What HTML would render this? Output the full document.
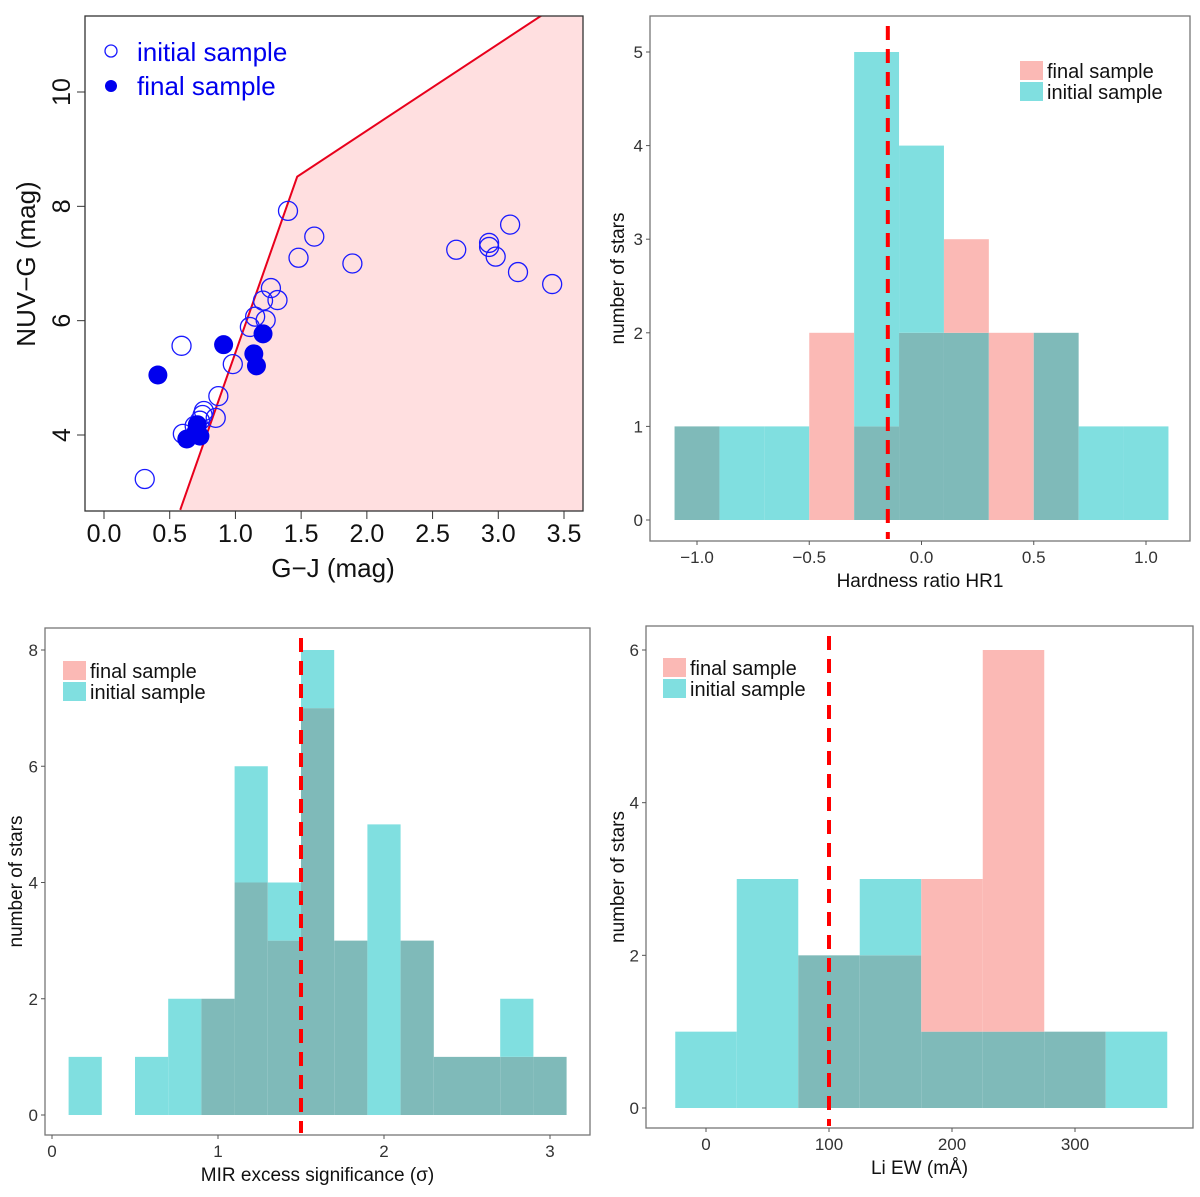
<!DOCTYPE html>
<html><head><meta charset="utf-8"><style>
html,body{margin:0;padding:0;background:#fff}
svg{display:block;font-family:"Liberation Sans",sans-serif}
</style></head><body>
<svg id="chart" width="1200" height="1197" viewBox="0 0 1200 1197" xmlns="http://www.w3.org/2000/svg"></svg>
<script>
// ---- Panel 1 data (scatter) ----
const initX=[0.31,0.59,0.60,0.69,0.73,0.75,0.76,0.85,0.87,0.98,1.11,1.15,1.21,1.23,1.27,1.32,1.40,1.48,1.60,1.89,2.68,2.93,2.93,2.98,3.09,3.15,3.41];
const initY=[3.23,5.56,4.02,4.16,4.25,4.35,4.42,4.30,4.68,5.24,5.89,6.07,6.35,6.01,6.57,6.36,7.92,7.10,7.47,7.00,7.24,7.36,7.29,7.12,7.68,6.85,6.64];
const finX=[0.41,0.91,1.21,1.14,1.16,0.63,0.70,0.73,0.71];
const finY=[5.05,5.58,5.77,5.42,5.21,3.93,4.05,3.98,4.18];
const boundX=[0.58,1.47,3.33];
const boundY=[2.69,8.52,11.34];
const p1TicksX=[0.0,0.5,1.0,1.5,2.0,2.5,3.0,3.5];
const p1TicksY=[4,6,8,10];
// ---- Panel 2 data ----
const hrEdges=[-1.1,-0.9,-0.7,-0.5,-0.3,-0.1,0.1,0.3,0.5,0.7,0.9,1.1];
const hrInit=[1,1,1,0,5,4,2,0,2,1,1];
const hrFinal=[1,0,0,2,1,2,3,2,2,0,0];
const hrTicksX=[-1.0,-0.5,0.0,0.5,1.0];
const hrTicksY=[0,1,2,3,4,5];
const hrCut=-0.15;
// ---- Panel 3 data ----
const mirEdges=[0.1,0.3,0.5,0.7,0.9,1.1,1.3,1.5,1.7,1.9,2.1,2.3,2.5,2.7,2.9,3.1];
const mirInit=[1,0,1,2,2,6,4,8,3,5,3,1,1,2,1];
const mirFinal=[0,0,0,0,2,4,3,7,3,0,3,1,1,1,1];
const mirTicksX=[0,1,2,3];
const mirTicksY=[0,2,4,6,8];
const mirCut=1.5;
// ---- Panel 4 data ----
const liEdges=[-25,25,75,125,175,225,275,325,375];
const liInit=[1,3,2,3,1,1,1,1];
const liFinal=[0,0,2,2,3,6,1,0];
const liTicksX=[0,100,200,300];
const liTicksY=[0,2,4,6];
const liCut=100;

const svg=document.getElementById('chart');
const NS='http://www.w3.org/2000/svg';
function mk(tag,attrs,parent){const e=document.createElementNS(NS,tag);for(const k in attrs)e.setAttribute(k,attrs[k]);(parent||svg).appendChild(e);return e;}
function lin(d0,d1,r0,r1){return v=>r0+(v-d0)*(r1-r0)/(d1-d0);}

// ===== Panel 1 =====
(function(){
  const g=mk('g',{});
  
  
  const L=85,R=583,T=16,B=511;
  const sx=lin(0,3.5,104,564), sy=lin(4,10,435,92);
  const clip=mk('clipPath',{id:'c1'},g);mk('rect',{x:L,y:T,width:R-L,height:B-T},clip);
  // shaded region
  let pts=boundX.map((x,i)=>sx(x)+','+sy(boundY[i]));
  const reg=mk('polygon',{points:pts.join(' ')+` ${R+50},${sy(boundY[2])} ${R+50},${B+50} ${sx(boundX[0])},${B+50}`,fill:'#ffdfe0','clip-path':'url(#c1)'},g);
  
  
  const ln=mk('polyline',{points:pts.join(' '),fill:'none',stroke:'#e8001c','stroke-width':2,'clip-path':'url(#c1)'},g);
  
  
  initX.forEach((x,i)=>{const c=mk('circle',{cx:sx(x),cy:sy(initY[i]),r:9.5,fill:'none',stroke:'#1a1aff','stroke-width':1.3},g);
    
    });
  finX.forEach((x,i)=>{const c=mk('circle',{cx:sx(x),cy:sy(finY[i]),r:9.5,fill:'#0000ee'},g);
    
    });
  const fr=mk('rect',{x:L,y:T,width:R-L,height:B-T,fill:'none',stroke:'#333','stroke-width':1.3},g);
  
  
  p1TicksX.forEach(v=>{mk('line',{x1:sx(v),x2:sx(v),y1:B,y2:B+8,stroke:'#333'},g);
    const t=mk('text',{x:sx(v),y:B+31,'font-size':25,'text-anchor':'middle',fill:'#111'},g);t.textContent=v.toFixed(1);
    
    });
  p1TicksY.forEach(v=>{mk('line',{x1:L-8,x2:L,y1:sy(v),y2:sy(v),stroke:'#333'},g);
    const t=mk('text',{x:0,y:0,'font-size':25,'text-anchor':'middle',fill:'#111',transform:`translate(${L-15},${sy(v)}) rotate(-90)`},g);t.textContent=v;
    
    });
  let t=mk('text',{x:333,y:577,'font-size':26,'text-anchor':'middle',fill:'#111'},g);t.textContent='G\u2212J (mag)';
  
  
  t=mk('text',{x:0,y:0,'font-size':26,'text-anchor':'middle',fill:'#111',transform:`translate(35,264) rotate(-90)`},g);t.textContent='NUV\u2212G (mag)';
  
  
  const l1=mk('circle',{cx:111,cy:51,r:6,fill:'none',stroke:'#1a1aff','stroke-width':1.3},g);
  
  
  const l2=mk('circle',{cx:111,cy:86,r:6,fill:'#0000ee'},g);
  
  
  t=mk('text',{x:137,y:61,'font-size':26,fill:'#0000ee'},g);t.textContent='initial sample';
  
  
  t=mk('text',{x:137,y:95,'font-size':26,fill:'#0000ee'},g);t.textContent='final sample';
  
  
})();

// ===== histogram helper =====
function hist(o){
  const g=mk('g',{});
  
  
  const sx=lin(o.xd[0],o.xd[1],o.xr[0],o.xr[1]), sy=lin(o.yd[0],o.yd[1],o.yr[0],o.yr[1]);
  const TEAL='#80dfe0',PINK='#fbb9b5',DARK='#7fbab9';
  for(let i=0;i<o.init.length;i++){
    const x0=sx(o.edges[i]),x1=sx(o.edges[i+1]);
    const a=o.init[i],b=o.final[i],m=Math.min(a,b);
    if(m>0){const r=mk('rect',{x:x0,y:sy(m),width:x1-x0,height:sy(0)-sy(m),fill:DARK},g);
      
      }
    if(a>m){const r=mk('rect',{x:x0,y:sy(a),width:x1-x0,height:sy(m)-sy(a),fill:TEAL},g);
      
      }
    if(b>m){const r=mk('rect',{x:x0,y:sy(b),width:x1-x0,height:sy(m)-sy(b),fill:PINK},g);
      
      }
  }
  const d=mk('line',{x1:sx(o.cut),x2:sx(o.cut),y1:o.box[1]+10,y2:o.box[3]-2,stroke:'#ff0000','stroke-width':4,'stroke-dasharray':'14,9'},g);
  
  
  const fr=mk('rect',{x:o.box[0],y:o.box[1],width:o.box[2]-o.box[0],height:o.box[3]-o.box[1],fill:'none',stroke:'#777','stroke-width':1.3},g);
  
  
  o.tx.forEach(v=>{mk('line',{x1:sx(v),x2:sx(v),y1:o.box[3],y2:o.box[3]+4,stroke:'#555'},g);
    const t=mk('text',{x:sx(v),y:o.box[3]+22,'font-size':17,'text-anchor':'middle',fill:'#333'},g);t.textContent=o.fmt(v);
    
    });
  o.ty.forEach(v=>{mk('line',{x1:o.box[0]-4,x2:o.box[0],y1:sy(v),y2:sy(v),stroke:'#555'},g);
    const t=mk('text',{x:o.box[0]-7,y:sy(v)+6,'font-size':17,'text-anchor':'end',fill:'#333'},g);t.textContent=v;
    
    });
  let t=mk('text',{x:(o.box[0]+o.box[2])/2,y:o.box[3]+46,'font-size':19,'text-anchor':'middle',fill:'#111'},g);t.textContent=o.xt;
  
  
  t=mk('text',{x:0,y:0,'font-size':19,'text-anchor':'middle',fill:'#111',transform:`translate(${o.ytx},${(o.box[1]+o.box[3])/2}) rotate(-90)`},g);t.textContent='number of stars';
  
  
  const [lx,ly]=o.leg;
  let s=mk('rect',{x:lx,y:ly,width:23,height:19,fill:PINK},g);
  
  
  s=mk('rect',{x:lx,y:ly+21,width:23,height:19,fill:TEAL},g);
  
  
  t=mk('text',{x:lx+27,y:ly+17,'font-size':20,fill:'#111'},g);t.textContent='final sample';
  
  
  t=mk('text',{x:lx+27,y:ly+38,'font-size':20,fill:'#111'},g);t.textContent='initial sample';
  
  
}
hist({name:'hardness-ratio-panel',edges:hrEdges,init:hrInit,final:hrFinal,cut:hrCut,xd:[-1,1],xr:[697,1146],yd:[0,5],yr:[520,52],
  box:[650,16,1190,541],tx:hrTicksX,ty:hrTicksY,fmt:v=>(v<0?'\u2212':'')+Math.abs(v).toFixed(1),xt:'Hardness ratio HR1',ytx:624,leg:[1020,61]});
hist({name:'mir-excess-panel',edges:mirEdges,init:mirInit,final:mirFinal,cut:mirCut,xd:[0,3],xr:[52,550],yd:[0,8],yr:[1115,650],
  box:[45,628,590,1135],tx:mirTicksX,ty:mirTicksY,fmt:v=>String(v),xt:'MIR excess significance (\u03c3)',ytx:22,leg:[63,661]});
hist({name:'li-ew-panel',edges:liEdges,init:liInit,final:liFinal,cut:liCut,xd:[0,300],xr:[706,1075],yd:[0,6],yr:[1108,650],
  box:[646,626,1193,1128],tx:liTicksX,ty:liTicksY,fmt:v=>String(v),xt:'Li EW (m\u00c5)',ytx:624,leg:[663,658]});
</script>
</body></html>
